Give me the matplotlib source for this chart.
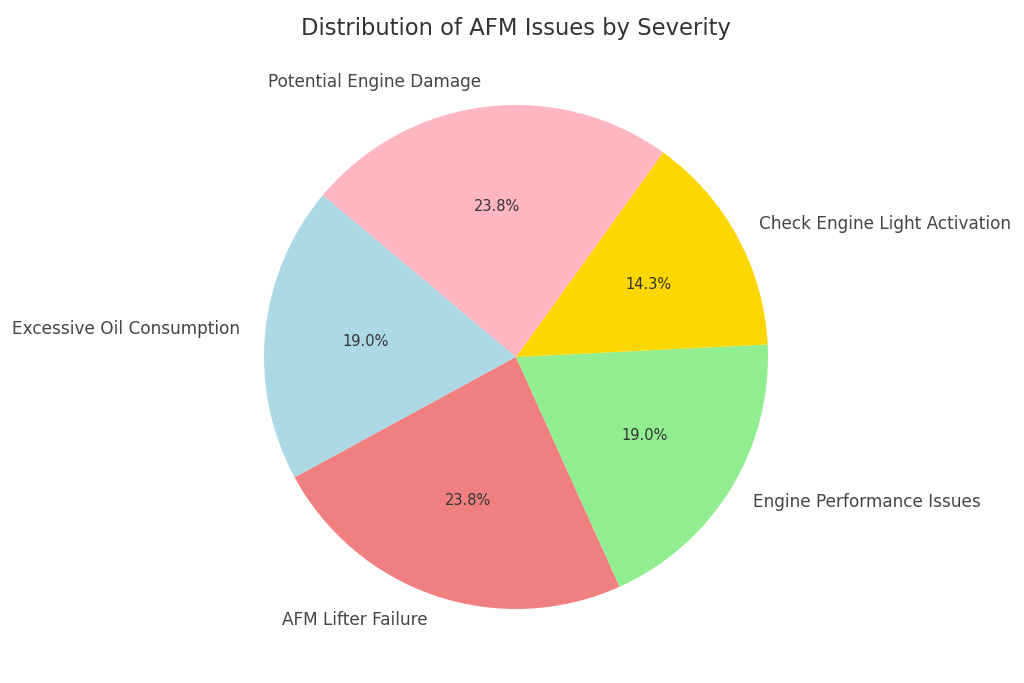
import matplotlib
matplotlib.use('Agg')
import matplotlib.pyplot as plt

labels = ['Excessive Oil Consumption', 'AFM Lifter Failure', 'Engine Performance Issues',
          'Check Engine Light Activation', 'Potential Engine Damage']
counts = [4, 5, 4, 3, 5]
colors = ['lightblue', 'lightcoral', 'lightgreen', 'gold', 'lightpink']

fig = plt.figure(figsize=(10.24, 6.83), dpi=100)
# square axes placed so the pie sits where the reference has it
ax = fig.add_axes([201 / 1024, 11 / 683, 630 / 1024, 630 / 683])
wedges, texts, autotexts = ax.pie(counts, labels=labels, colors=colors, startangle=140,
                                  autopct='%1.1f%%', textprops={'color': '#444444'})
for t in texts:
    t.set_fontsize(12.2)
for t in autotexts:
    t.set_fontsize(10.5)
    t.set_color('#333333')
ax.set_aspect('equal')
ax.set_title('Distribution of AFM Issues by Severity', fontsize=16.3, color='#333333', pad=5)

fig.savefig('out.png', dpi=100)
